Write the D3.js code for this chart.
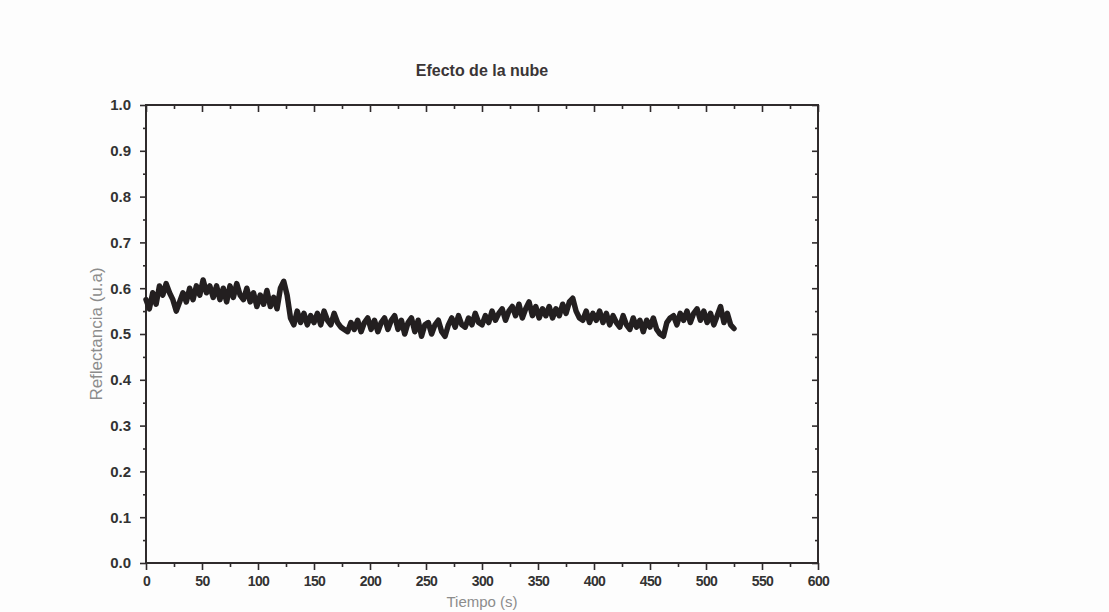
<!DOCTYPE html>
<html lang="en">
<head>
    <meta charset="UTF-8">
    <title>Efecto de la nube</title>
    <script src="https://d3js.org/d3.v7.min.js"></script>
    <style>
        body { margin: 0; background: #fdfdfd; }
        text { font-family: "Liberation Sans", Arial, sans-serif; }
    </style>
</head>
<body>

<script>
    // sampling of the trace (seconds)
    t0 = 0
    dt = 3

    // reflectance, one value every 3 s from 0 to 525 s
    reflectance = [
        0.575, 0.555, 0.590, 0.565, 0.605, 0.585, 0.610, 0.590, 0.575, 0.550,
        0.570, 0.590, 0.570, 0.600, 0.575, 0.605, 0.585, 0.618, 0.590, 0.605,
        0.580, 0.605, 0.575, 0.600, 0.570, 0.605, 0.580, 0.610, 0.585, 0.575,
        0.600, 0.570, 0.590, 0.560, 0.585, 0.565, 0.595, 0.560, 0.580, 0.555,
        0.600, 0.615, 0.585, 0.535, 0.520, 0.550, 0.525, 0.545, 0.520, 0.540,
        0.525, 0.545, 0.520, 0.550, 0.530, 0.520, 0.545, 0.525, 0.515, 0.510,
        0.505, 0.525, 0.510, 0.530, 0.505, 0.525, 0.535, 0.510, 0.530, 0.505,
        0.525, 0.535, 0.510, 0.530, 0.540, 0.510, 0.530, 0.500, 0.525, 0.535,
        0.505, 0.530, 0.495, 0.520, 0.525, 0.500, 0.520, 0.530, 0.505, 0.495,
        0.520, 0.535, 0.515, 0.540, 0.520, 0.515, 0.535, 0.520, 0.545, 0.525,
        0.520, 0.540, 0.525, 0.550, 0.530, 0.545, 0.555, 0.530, 0.550, 0.560,
        0.540, 0.565, 0.535, 0.555, 0.570, 0.540, 0.560, 0.535, 0.555, 0.540,
        0.560, 0.535, 0.555, 0.540, 0.565, 0.545, 0.570, 0.578, 0.550, 0.535,
        0.530, 0.550, 0.525, 0.545, 0.530, 0.550, 0.525, 0.545, 0.520, 0.540,
        0.525, 0.515, 0.540, 0.520, 0.510, 0.535, 0.515, 0.530, 0.505, 0.530,
        0.515, 0.535, 0.510, 0.500, 0.495, 0.525, 0.535, 0.540, 0.520, 0.545,
        0.530, 0.550, 0.525, 0.545, 0.555, 0.530, 0.550, 0.525, 0.545, 0.520,
        0.540, 0.560, 0.525, 0.545, 0.520, 0.512
    ]

    xMajor = [0, 50, 100, 150, 200, 250, 300, 350, 400, 450, 500, 550, 600]
    xMinor = [25, 75, 125, 175, 225, 275, 325, 375, 425, 475, 525, 575]
    yMajor = [0.0, 0.1, 0.2, 0.3, 0.4, 0.5, 0.6, 0.7, 0.8, 0.9, 1.0]
    yMinor = [0.05, 0.15, 0.25, 0.35, 0.45, 0.55, 0.65, 0.75, 0.85, 0.95]

    data = reflectance.map((v, i) => ({t: t0 + i * dt, r: v}))

    //chart dimensions
    w = 1109
    h = 612
    margin = {top: 105, right: 291, bottom: 49, left: 146}
    width = w - margin.left - margin.right
    height = h - margin.top - margin.bottom

    root = d3.select("body")
        .append("svg")
        .attr("width", w)
        .attr("height", h)

    svg = root.append("g")
        .attr("transform", "translate(" + margin.left + "," + margin.top + ")")

    x = d3.scaleLinear().domain([0, 600]).range([0, width])
    y = d3.scaleLinear().domain([0, 1]).range([height, 0])

    ink = "#2f2b2c"

    function styleAxis(g, labels, size) {
        g.select(".domain").remove()
        g.selectAll("line").attr("stroke", ink).attr("stroke-width", 1.6)
        g.selectAll("text")
            .attr("fill", labels ? "#333" : "none")
            .style("font-size", (size || 14) + "px")
            .style("font-weight", "bold")
    }

    // bottom axis (outward ticks)
    svg.append("g")
        .attr("transform", "translate(0," + height + ")")
        .call(d3.axisBottom(x).tickValues(xMajor).tickSize(7).tickPadding(6).tickFormat(d3.format("d")))
        .call(g => styleAxis(g, true, 14))
        .selectAll("text").style("letter-spacing", "-0.6px")
    svg.append("g")
        .attr("transform", "translate(0," + height + ")")
        .call(d3.axisBottom(x).tickValues(xMinor).tickSize(4).tickFormat(""))
        .call(g => styleAxis(g, false))

    // left axis (outward ticks)
    svg.append("g")
        .call(d3.axisLeft(y).tickValues(yMajor).tickSize(6).tickPadding(9).tickFormat(d3.format(".1f")))
        .call(g => styleAxis(g, true, 15))
    svg.append("g")
        .call(d3.axisLeft(y).tickValues(yMinor).tickSize(3).tickFormat(""))
        .call(g => styleAxis(g, false))

    // top axis (inward ticks)
    svg.append("g")
        .call(d3.axisTop(x).tickValues(xMajor).tickSize(-7).tickFormat(""))
        .call(g => styleAxis(g, false))
    svg.append("g")
        .call(d3.axisTop(x).tickValues(xMinor).tickSize(-4).tickFormat(""))
        .call(g => styleAxis(g, false))

    // right axis (inward ticks)
    svg.append("g")
        .attr("transform", "translate(" + width + ",0)")
        .call(d3.axisRight(y).tickValues(yMajor).tickSize(-6).tickFormat(""))
        .call(g => styleAxis(g, false))
    svg.append("g")
        .attr("transform", "translate(" + width + ",0)")
        .call(d3.axisRight(y).tickValues(yMinor).tickSize(-3).tickFormat(""))
        .call(g => styleAxis(g, false))

    // frame
    svg.append("rect")
        .attr("x", 0).attr("y", 0)
        .attr("width", width).attr("height", height)
        .attr("fill", "none")
        .attr("stroke", ink)
        .attr("stroke-width", 2)

    // trace
    line = d3.line()
        .x(d => x(d.t))
        .y(d => y(d.r))

    svg.append("path")
        .datum(data)
        .attr("fill", "none")
        .attr("stroke", "#231f20")
        .attr("stroke-width", 5.5)
        .attr("stroke-linejoin", "round")
        .attr("stroke-linecap", "round")
        .attr("d", line)

    // title
    root.append("text")
        .attr("x", margin.left + width / 2)
        .attr("y", 76)
        .attr("text-anchor", "middle")
        .attr("fill", "#3a3536")
        .style("font-size", "16px")
        .style("font-weight", "bold")
        .text("Efecto de la nube")

    // y label
    root.append("text")
        .attr("transform", "translate(102," + (margin.top + height / 2) + ") rotate(-90)")
        .attr("text-anchor", "middle")
        .attr("fill", "#8c8c8c")
        .style("font-size", "17px")
        .text("Reflectancia (u.a)")

    // x label (sits at the very bottom edge)
    root.append("text")
        .attr("x", margin.left + width / 2)
        .attr("y", 607)
        .attr("text-anchor", "middle")
        .attr("fill", "#8c8c8c")
        .style("font-size", "15px")
        .text("Tiempo (s)")
</script>

</body>
</html>
